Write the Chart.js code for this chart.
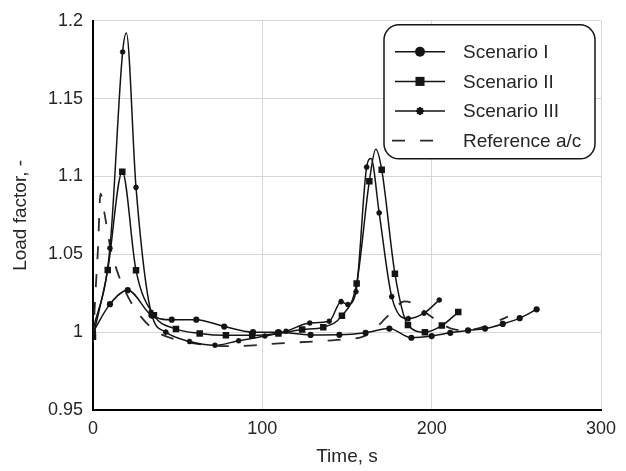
<!DOCTYPE html>
<html>
<head>
<meta charset="utf-8">
<script src="https://cdn.jsdelivr.net/npm/chart.js@4/dist/chart.umd.min.js"></script>
<style>
  html, body { margin: 0; padding: 0; background: #fff; }
  #wrap { width: 626px; height: 471px; }
</style>
</head>
<body>
<div id="wrap"><canvas id="c"></canvas></div>
<script>
// Load factor over time for three manoeuvre scenarios and the reference aircraft.
const s1Time = [0, 10, 20.5, 34.5, 46.5, 61, 77.5, 94.5, 109.5, 128.5, 145.5, 161, 175, 188, 200, 211, 221.5, 231.5, 242, 252, 262];
const s1Load = [1.0, 1.018, 1.027, 1.0108, 1.008, 1.008, 1.0036, 1.0, 1.0, 0.9982, 0.9983, 0.9996, 1.0023, 0.9964, 0.9975, 0.9996, 1.0011, 1.0023, 1.0053, 1.009, 1.0147];

const s2Time = [0, 8.7, 17.3, 25.4, 36, 49, 63, 78.5, 94, 109.5, 123.5, 136, 147, 155.7, 163.2, 170.5, 178.3, 186, 196, 206, 215.7];
const s2Load = [0.997, 1.040, 1.103, 1.0397, 1.0108, 1.0021, 0.9992, 0.998, 0.998, 0.9992, 1.0017, 1.0032, 1.0106, 1.0312, 1.097, 1.1044, 1.0375, 1.0046, 1.0, 1.0042, 1.0129];
// crest of the second pull-up, between sampled markers
const s2CrestTime = [167];
const s2CrestLoad = [1.1175];

const s3Time = [0, 10, 17.5, 25.4, 34.3, 43, 57, 72, 86, 101.5, 114, 128, 139.5, 146.5, 150.5, 155.3, 161.6, 169, 176.4, 186.2, 195.5, 204.5];
const s3Load = [1.001, 1.054, 1.18, 1.093, 1.0128, 1.0, 0.994, 0.9916, 0.9945, 0.9975, 1.0006, 1.0059, 1.007, 1.0196, 1.0178, 1.026, 1.106, 1.0766, 1.0228, 1.0087, 1.0122, 1.0207];
const s3CrestTime = [19.7, 164.2];
const s3CrestLoad = [1.1922, 1.1115];

const refTime = [0, 1.2, 3, 4.4, 7, 10, 14, 21, 29, 38, 50, 65, 80, 95, 110, 127, 144, 159, 165, 171, 176, 184, 190, 199, 211, 220, 231, 245];
const refLoad = [0.993, 1.02, 1.055, 1.089, 1.075, 1.056, 1.04, 1.022, 1.009, 1.0, 0.995, 0.992, 0.991, 0.9915, 0.9928, 0.9938, 0.995, 0.997, 1.0005, 1.007, 1.0125, 1.0198, 1.018, 1.0105, 1.0025, 1.0012, 1.0035, 1.01];

const seriesNames = ['Scenario I', 'Scenario II', 'Scenario III', 'Reference a/c'];
const xTicks = [0, 100, 200, 300];
const yTicks = [0.95, 1.0, 1.05, 1.1, 1.15, 1.2];
const yTickLabels = ['0.95', '1', '1.05', '1.1', '1.15', '1.2'];

function toPoints(times, loads, crestTimes = [], crestLoads = []) {
  const pts = times.map((t, i) => ({ x: t, y: loads[i], crest: false }));
  crestTimes.forEach((t, i) => pts.push({ x: t, y: crestLoads[i], crest: true }));
  return pts.sort((a, b) => a.x - b.x);
}

const INK = '#141414';
const TEXT = '#262626';
const FONT = '"Liberation Sans", Arial, sans-serif';

function markerRadius(r) {
  return ctx => (ctx.raw && ctx.raw.crest ? 0 : r);
}

const datasets = [
  {
    label: seriesNames[0], data: toPoints(s1Time, s1Load),
    borderColor: INK, backgroundColor: INK, borderWidth: 1.5,
    pointStyle: 'circle', pointRadius: markerRadius(3.1), pointBorderWidth: 0,
    legendMarker: 5
  },
  {
    label: seriesNames[1], data: toPoints(s2Time, s2Load, s2CrestTime, s2CrestLoad),
    borderColor: INK, backgroundColor: INK, borderWidth: 1.5,
    pointStyle: 'rect', pointRadius: markerRadius(4.6), pointBorderWidth: 0,
    legendMarker: 6.4
  },
  {
    label: seriesNames[2], data: toPoints(s3Time, s3Load, s3CrestTime, s3CrestLoad),
    borderColor: INK, backgroundColor: INK, borderWidth: 1.5,
    pointStyle: 'star', pointRadius: markerRadius(2.8), pointBorderWidth: 1.6,
    legendMarker: 4
  },
  {
    label: seriesNames[3], data: toPoints(refTime, refLoad),
    borderColor: '#2a2a2a', backgroundColor: '#2a2a2a', borderWidth: 1.8,
    borderDash: [13, 15], pointRadius: 0,
    legendMarker: 0
  }
];

function drawLegendMarker(ctx, style, x, y, r) {
  ctx.fillStyle = INK;
  ctx.strokeStyle = INK;
  ctx.beginPath();
  if (style === 'circle') {
    ctx.arc(x, y, r, 0, Math.PI * 2);
    ctx.fill();
  } else if (style === 'rect') {
    const h = r * Math.SQRT1_2;
    ctx.rect(x - h, y - h, 2 * h, 2 * h);
    ctx.fill();
  } else if (style === 'star') {
    ctx.lineWidth = 2.2;
    for (let k = 0; k < 4; k++) {
      const a = k * Math.PI / 4;
      ctx.moveTo(x - r * Math.cos(a), y - r * Math.sin(a));
      ctx.lineTo(x + r * Math.cos(a), y + r * Math.sin(a));
    }
    ctx.stroke();
  }
}

// Rounded, framed legend in the upper-right corner of the plot.
const boxedLegend = {
  id: 'boxedLegend',
  afterDatasetsDraw(chart) {
    const { ctx, chartArea } = chart;
    const w = 211, h = 134, r = 15;
    const x0 = chartArea.right - 217, y0 = chartArea.top + 4;
    ctx.save();
    ctx.beginPath();
    ctx.moveTo(x0 + r, y0);
    ctx.arcTo(x0 + w, y0, x0 + w, y0 + h, r);
    ctx.arcTo(x0 + w, y0 + h, x0, y0 + h, r);
    ctx.arcTo(x0, y0 + h, x0, y0, r);
    ctx.arcTo(x0, y0, x0 + w, y0, r);
    ctx.closePath();
    ctx.fillStyle = '#fff';
    ctx.fill();
    ctx.lineWidth = 1.5;
    ctx.strokeStyle = INK;
    ctx.stroke();

    chart.data.datasets.forEach((ds, i) => {
      const y = y0 + 27 + i * 29.6;
      ctx.save();
      ctx.strokeStyle = ds.borderColor;
      ctx.lineWidth = ds.borderDash ? 1.8 : 1.5;
      ctx.setLineDash(ds.borderDash || []);
      ctx.beginPath();
      if (ds.borderDash) {
        ctx.moveTo(x0 + 8, y);
        ctx.lineTo(x0 + 52, y);
      } else {
        ctx.moveTo(x0 + 11, y);
        ctx.lineTo(x0 + 61, y);
      }
      ctx.stroke();
      ctx.restore();
      if (ds.legendMarker) drawLegendMarker(ctx, ds.pointStyle, x0 + 36, y, ds.legendMarker);
      ctx.fillStyle = TEXT;
      ctx.font = '19px ' + FONT;
      ctx.textAlign = 'left';
      ctx.textBaseline = 'middle';
      ctx.fillText(ds.label, x0 + 79, y + 1);
    });
    ctx.restore();
  }
};

new Chart(document.getElementById('c'), {
  type: 'line',
  data: { datasets },
  plugins: [boxedLegend],
  options: {
    animation: false,
    responsive: true,
    maintainAspectRatio: false,
    layout: { padding: { top: 15, right: 25, left: 0, bottom: 0 } },
    plugins: { legend: { display: false }, tooltip: { enabled: false } },
    elements: { line: { cubicInterpolationMode: 'monotone' } },
    scales: {
      x: {
        type: 'linear', min: 0, max: 300,
        afterBuildTicks: s => { s.ticks = xTicks.map(v => ({ value: v })); },
        afterFit: s => { s.height = 61; },
        grid: { color: '#d6d6dc', lineWidth: 1, drawTicks: false },
        border: { color: '#000', width: 2 },
        ticks: { padding: 8, color: TEXT, font: { family: FONT, size: 18 } },
        title: {
          display: true, text: 'Time, s', color: TEXT,
          font: { family: FONT, size: 19 }, padding: { top: 0, bottom: 3 }
        }
      },
      y: {
        min: 0.95, max: 1.2,
        afterBuildTicks: s => { s.ticks = yTicks.map(v => ({ value: v })); },
        afterFit: s => { s.width = 93; },
        grid: { color: '#d6d6dc', lineWidth: 1, drawTicks: false },
        border: { color: '#000', width: 2 },
        ticks: {
          padding: 10, color: TEXT, font: { family: FONT, size: 18 },
          callback: (v) => yTickLabels[yTicks.indexOf(Math.round(v * 100) / 100)] ?? ''
        },
        title: {
          display: true, text: 'Load factor, -', color: TEXT,
          font: { family: FONT, size: 19 }, padding: { top: 9, bottom: 0 }
        }
      }
    }
  }
});
</script>
</body>
</html>
